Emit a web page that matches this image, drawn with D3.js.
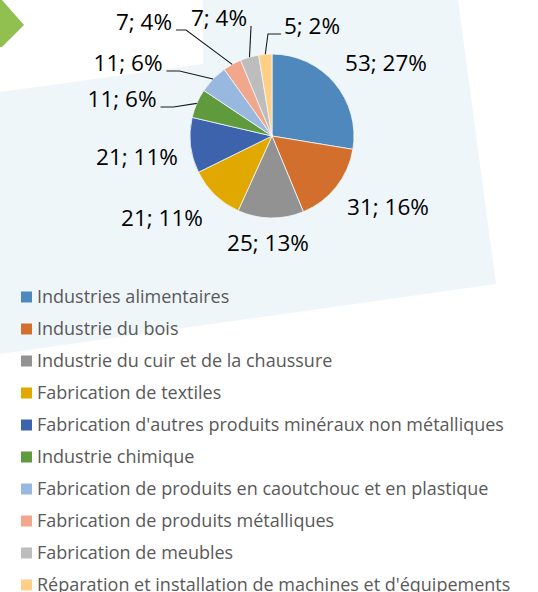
<!DOCTYPE html>
<html>
<head>
<meta charset="utf-8">
<script src="https://cdn.jsdelivr.net/npm/d3@7"></script>
<style>
  body { margin: 0; background: #fff; }
  svg { display: block; }
</style>
</head>
<body>
<svg id="chart"></svg>
<script>
const width = 538;
const height = 592;

// data
const categories = [
  "Industries alimentaires",
  "Industrie du bois",
  "Industrie du cuir et de la chaussure",
  "Fabrication de textiles",
  "Fabrication d'autres produits minéraux non métalliques",
  "Industrie chimique",
  "Fabrication de produits en caoutchouc et en plastique",
  "Fabrication de produits métalliques",
  "Fabrication de meubles",
  "Réparation et installation de machines et d'équipements"
];
const values = [53, 31, 25, 21, 21, 11, 11, 7, 7, 5];
const percents = [27, 16, 13, 11, 11, 6, 6, 4, 4, 2];
const colors = ["#4e88bd", "#d36f2c", "#929292", "#e0a800", "#3e63ad",
                "#5f9a3d", "#99b8df", "#f0a78b", "#bdbdbd", "#fecf85"];

// label placement relative to pie centre (layout, not data)
const labelOffsets = [[114, -73], [116, 71], [-4, 107], [-110, 82], [-135, 21],
                      [-150, -37], [-144, -73], [-128, -114], [-53, -118], [40, -110]];
const leaderElbow = [null, null, null, null, null, 13, 13, 10, 0, 13];

const cx = 272, cy = 136, radius = 82;

const svg = d3.select("#chart")
  .attr("width", width)
  .attr("height", height);

// background panel
svg.append("polygon")
  .attr("points", "203,0 458,0 496,284 0,354 0,92 203,64")
  .attr("fill", "#eff6fa");

// green arrow top-left
svg.append("polygon")
  .attr("points", "0,0 2,0 24,25 2,47 0,47")
  .attr("fill", "#92c050");

const pie = d3.pie().sort(null).value(d => d);
const arcs = pie(values);
const arc = d3.arc().innerRadius(0).outerRadius(radius);

const g = svg.append("g")
  .attr("transform", "translate(" + cx + "," + cy + ")");

g.selectAll("path.slice")
  .data(arcs)
  .join("path")
  .attr("class", "slice")
  .attr("d", arc)
  .attr("fill", (d, i) => colors[i])
  .attr("stroke", "#f4f8fb")
  .attr("stroke-width", 0.8);

const labels = g.selectAll("text.lbl")
  .data(arcs)
  .join("text")
  .attr("class", "lbl")
  .attr("x", (d, i) => labelOffsets[i][0])
  .attr("y", (d, i) => labelOffsets[i][1])
  .attr("dy", "0.36em")
  .attr("text-anchor", "middle")
  .style("font-family", "'Open Sans', sans-serif")
  .style("font-size", "22.5px")
  .attr("fill", "#000")
  .text((d, i) => values[i] + "; " + percents[i] + "%");

// leader lines for the small slices
labels.each(function(d, i) {
  if (leaderElbow[i] === null) return;
  const bb = this.getBBox();
  const a = (d.startAngle + d.endAngle) / 2;
  const px = radius * Math.sin(a), py = -radius * Math.cos(a);
  const leftSide = bb.x + bb.width / 2 < px;
  const sx = leftSide ? bb.x + bb.width + 4 : bb.x - 3;
  const sy = labelOffsets[i][1] + 8;
  const ex = leftSide ? sx + leaderElbow[i] : sx - leaderElbow[i];
  g.append("polyline")
    .attr("points", [[sx, sy], [ex, sy], [px, py]].map(p => p.join(",")).join(" "))
    .attr("fill", "none")
    .attr("stroke", "#1a1a1a")
    .attr("stroke-width", 1.1);
});

// legend
const legend = svg.append("g").attr("transform", "translate(21,297)");
const item = legend.selectAll("g")
  .data(categories)
  .join("g")
  .attr("transform", (d, i) => "translate(0," + i * 32 + ")");

item.append("rect")
  .attr("x", 0)
  .attr("y", -5.5)
  .attr("width", 11)
  .attr("height", 11)
  .attr("fill", (d, i) => colors[i]);

item.append("text")
  .attr("x", 16)
  .attr("y", 0)
  .attr("dy", "0.36em")
  .style("font-family", "'Open Sans', sans-serif")
  .style("font-size", "18px")
  .attr("fill", "#595959")
  .text(d => d);
</script>
</body>
</html>
